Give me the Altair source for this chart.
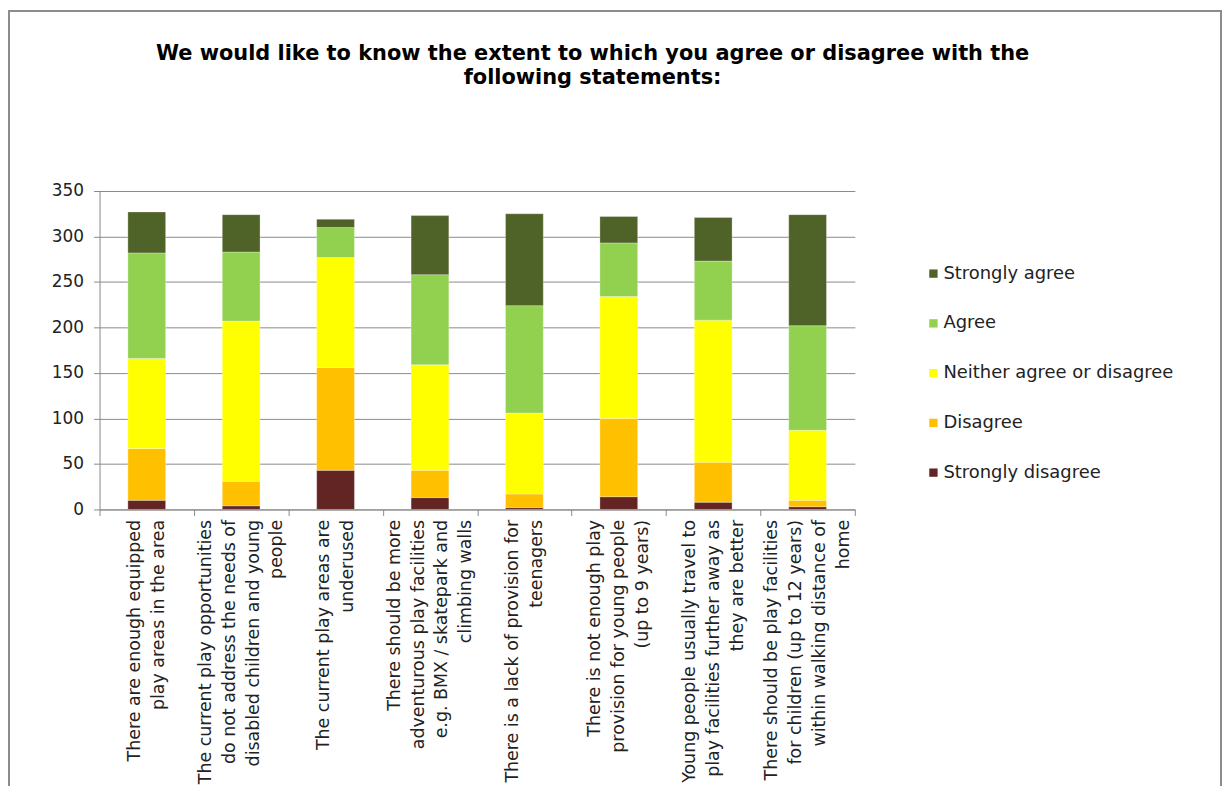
import altair as alt
import pandas as pd

statements = [
    "There are enough equipped|play areas in the area",
    "The current play opportunities|do not address the needs of|disabled children and young|people",
    "The current play areas are|underused",
    "There should be more|adventurous play facilities|e.g. BMX / skatepark and|climbing walls",
    "There is a lack of provision for|teenagers",
    "There is not enough play|provision for young people|(up to 9 years)",
    "Young people usually travel to|play facilities further away as|they are better",
    "There should be play facilities|for children (up to 12 years)|within walking distance of|home",
]

responses = ["Strongly disagree", "Disagree", "Neither agree or disagree", "Agree", "Strongly agree"]
legend_order = ["Strongly agree", "Agree", "Neither agree or disagree", "Disagree", "Strongly disagree"]
colors = {"Strongly agree": "#4F6228", "Agree": "#92D050",
          "Neither agree or disagree": "#FFFF00", "Disagree": "#FFC000",
          "Strongly disagree": "#632523"}

strongly_disagree = [10, 4, 43, 13, 2, 14, 8, 3]
disagree = [57, 27, 113, 30, 15, 86, 44, 7]
neither = [99, 176, 121, 116, 89, 134, 156, 77]
agree = [116, 76, 33, 99, 118, 59, 65, 115]
strongly_agree = [45, 41, 9, 65, 101, 29, 48, 122]

series = [strongly_disagree, disagree, neither, agree, strongly_agree]
rows = []
for ri, (resp, vals) in enumerate(zip(responses, series)):
    for s, v in zip(statements, vals):
        rows.append({"statement": s, "response": resp, "count": v, "order": ri})
df = pd.DataFrame(rows)

W, H = 759, 320
LH = 24
nlines = "length(split(datum.value, '|'))"

bars = alt.Chart(df).mark_bar(width=alt.RelativeBandSize(0.4), stroke="#ffffff", strokeWidth=0.5, strokeOpacity=0.6).encode(
    x=alt.X("statement:N", sort=statements, title=None,
            scale=alt.Scale(paddingInner=0, paddingOuter=0),
            axis=alt.Axis(labelAngle=-90, labelBaseline="middle",
                          labelExpr="split(datum.label, '|')",
                          labelOffset={"condition": [
                              {"test": f"{nlines} == 2", "value": -LH / 2},
                              {"test": f"{nlines} == 3", "value": -LH},
                          ], "value": -1.5 * LH},
                          labelFont="DejaVu Sans", labelFontSize=17.5, labelLineHeight=LH,
                          labelColor="#222222", labelPadding=4, labelLimit=400,
                          tickBand="extent", tickSize=6, tickColor="#888888",
                          domainColor="#888888", grid=False)),
    y=alt.Y("count:Q", stack="zero", title=None,
            scale=alt.Scale(domain=[0, 350], nice=False),
            axis=alt.Axis(values=list(range(0, 351, 50)), labelFont="DejaVu Sans",
                          labelFontSize=17, labelColor="#222222", labelPadding=10,
                          tickSize=6, tickColor="#888888", domainColor="#888888",
                          gridColor="#8a8a8a", gridWidth=1)),
    color=alt.Color("response:N", sort=legend_order,
                    scale=alt.Scale(domain=legend_order, range=[colors[k] for k in legend_order]),
                    legend=alt.Legend(title=None, orient="none", legendX=829, legendY=74,
                                      symbolType="square", symbolSize=70, symbolStrokeWidth=0,
                                      labelFont="DejaVu Sans", labelFontSize=18,
                                      labelColor="#222222", rowPadding=32, labelOffset=1,
                                      labelLimit=400)),
    order=alt.Order("order:Q", sort="ascending"),
)

frame = alt.Chart(alt.Data(values=[{}])).mark_rect(fill=None, stroke="#8c8c8c", strokeWidth=2).encode(
    x=alt.value(-91), x2=alt.value(1127), y=alt.value(-181), y2=alt.value(700)
)

chart = alt.layer(frame, bars).properties(
    width=W, height=H,
    autosize=alt.AutoSizeParams(type="none"),
    padding={"left": 92, "top": 182, "right": 369, "bottom": 276},
    title=alt.Title(["We would like to know the extent to which you agree or disagree with the",
                     "following statements:"],
                    font="DejaVu Sans", fontSize=21, fontWeight="bold", color="#000000",
                    anchor="middle", frame="group", dx=116, offset=-78, lineHeight=24),
).configure_view(stroke=None)

chart.save("out.html", embed_options={"renderer": "svg", "actions": False})
